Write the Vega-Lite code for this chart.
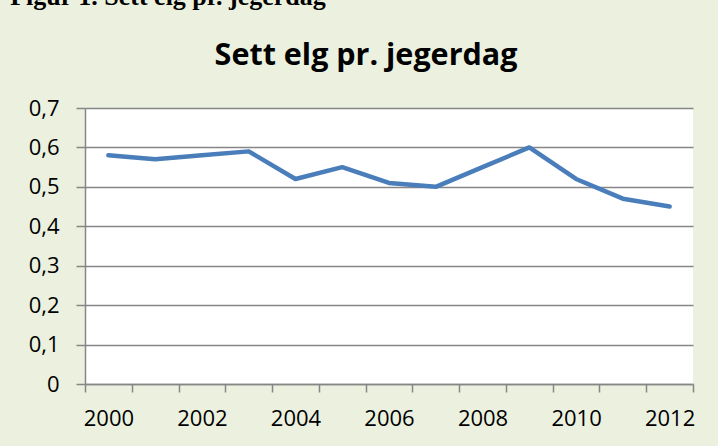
{
  "$schema": "https://vega.github.io/schema/vega-lite/v6.json",
  "background": "#EBF1DE",
  "padding": {"left": 10, "top": -17, "right": 40, "bottom": 40},
  "title": {
    "text": "Figur 1. Sett elg pr. jegerdag",
    "anchor": "start",
    "font": "Liberation Serif",
    "fontSize": 26,
    "fontWeight": "bold",
    "color": "#000000",
    "baseline": "alphabetic",
    "offset": 10,
    "dx": -18
  },
  "data": {
    "values": [
      {"year": 2000, "value": 0.58},
      {"year": 2001, "value": 0.57},
      {"year": 2002, "value": 0.58},
      {"year": 2003, "value": 0.59},
      {"year": 2004, "value": 0.52},
      {"year": 2005, "value": 0.55},
      {"year": 2006, "value": 0.51},
      {"year": 2007, "value": 0.50},
      {"year": 2008, "value": 0.55},
      {"year": 2009, "value": 0.60},
      {"year": 2010, "value": 0.52},
      {"year": 2011, "value": 0.47},
      {"year": 2012, "value": 0.45}
    ]
  },
  "vconcat": [
    {
      "width": 608,
      "height": 276,
      "title": {
        "text": "Sett elg pr. jegerdag",
        "font": "Open Sans",
        "fontSize": 30.5,
        "fontWeight": "bold",
        "color": "#000000",
        "anchor": "middle",
        "baseline": "alphabetic",
        "offset": 2,
        "dx": -23
      },
      "mark": {"type": "line", "color": "#4A7EBB", "strokeWidth": 4.5, "strokeCap": "round", "strokeJoin": "round"},
      "encoding": {
        "x": {
          "field": "year",
          "type": "ordinal",
          "scale": {"paddingInner": 0, "paddingOuter": 0},
          "axis": {
            "title": null,
            "labelAngle": 0,
            "tickBand": "extent",
            "labelExpr": "datum.value % 2 == 0 ? datum.label : ''",
            "labelFont": "Open Sans",
            "labelFontSize": 22,
            "labelColor": "#000000",
            "labelPadding": 16,
            "tickSize": 8,
            "tickColor": "#868686",
            "domainColor": "#868686",
            "domainWidth": 1.5,
            "tickWidth": 1.5,
            "grid": false
          }
        },
        "y": {
          "field": "value",
          "type": "quantitative",
          "scale": {"domain": [0, 0.7], "nice": false},
          "axis": {
            "title": null,
            "values": [0, 0.1, 0.2, 0.3, 0.4, 0.5, 0.6, 0.7],
            "labelExpr": "datum.value == 0 ? '0' : replace(format(datum.value, '.1f'), '.', ',')",
            "labelFont": "Open Sans",
            "labelFontSize": 22,
            "labelColor": "#000000",
            "labelPadding": 17,
            "tickSize": 9,
            "tickColor": "#868686",
            "tickWidth": 1.5,
            "domainColor": "#868686",
            "domainWidth": 1.5,
            "gridColor": "#868686",
            "gridWidth": 1.5,
            "gridOpacity": 1
          }
        }
      }
    }
  ],
  "config": {
    "view": {"fill": "#FFFFFF", "stroke": null}
  }
}
